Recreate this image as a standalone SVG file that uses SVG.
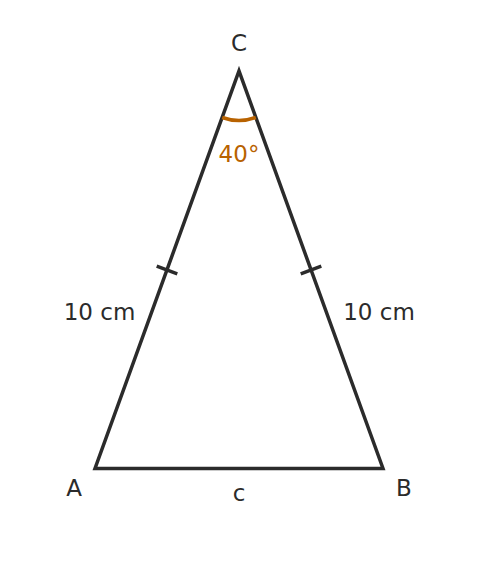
<svg xmlns="http://www.w3.org/2000/svg" width="478" height="576" viewBox="0 0 478 576">
<style>
.ln{stroke:#2b2b2b;stroke-width:3.5;fill:none;stroke-linejoin:miter}
.tk{stroke:#2b2b2b;stroke-width:3.5;fill:none}
.t{font-family:"DejaVu Sans",sans-serif;font-size:23px;fill:#2b2b2b;text-anchor:middle}
.o{fill:#b86200}
</style>
<rect width="478" height="576" fill="#ffffff"/>
<g id="triangle">
<path class="ln" d="M95,468.5 L383,468.5 L239,71 Z"/>
</g>
<g id="connectors">
<path class="tk" d="M156.7,266.2 L177.3,273.8"/>
<path class="tk" d="M300.7,273.8 L321.3,266.2"/>
<path d="M222.2,117.5 A49,49 0 0 0 255.8,117.5" stroke="#b86200" stroke-width="3.5" fill="none"/>
</g>
<g id="labels">
<text class="t" x="239" y="51">C</text>
<text class="t o" x="239" y="162">40°</text>
<text class="t" x="99.5" y="320">10 cm</text>
<text class="t" x="379" y="320">10 cm</text>
<text class="t" x="74" y="496">A</text>
<text class="t" x="404" y="496">B</text>
<text class="t" x="239" y="501">c</text>
</g>
</svg>
